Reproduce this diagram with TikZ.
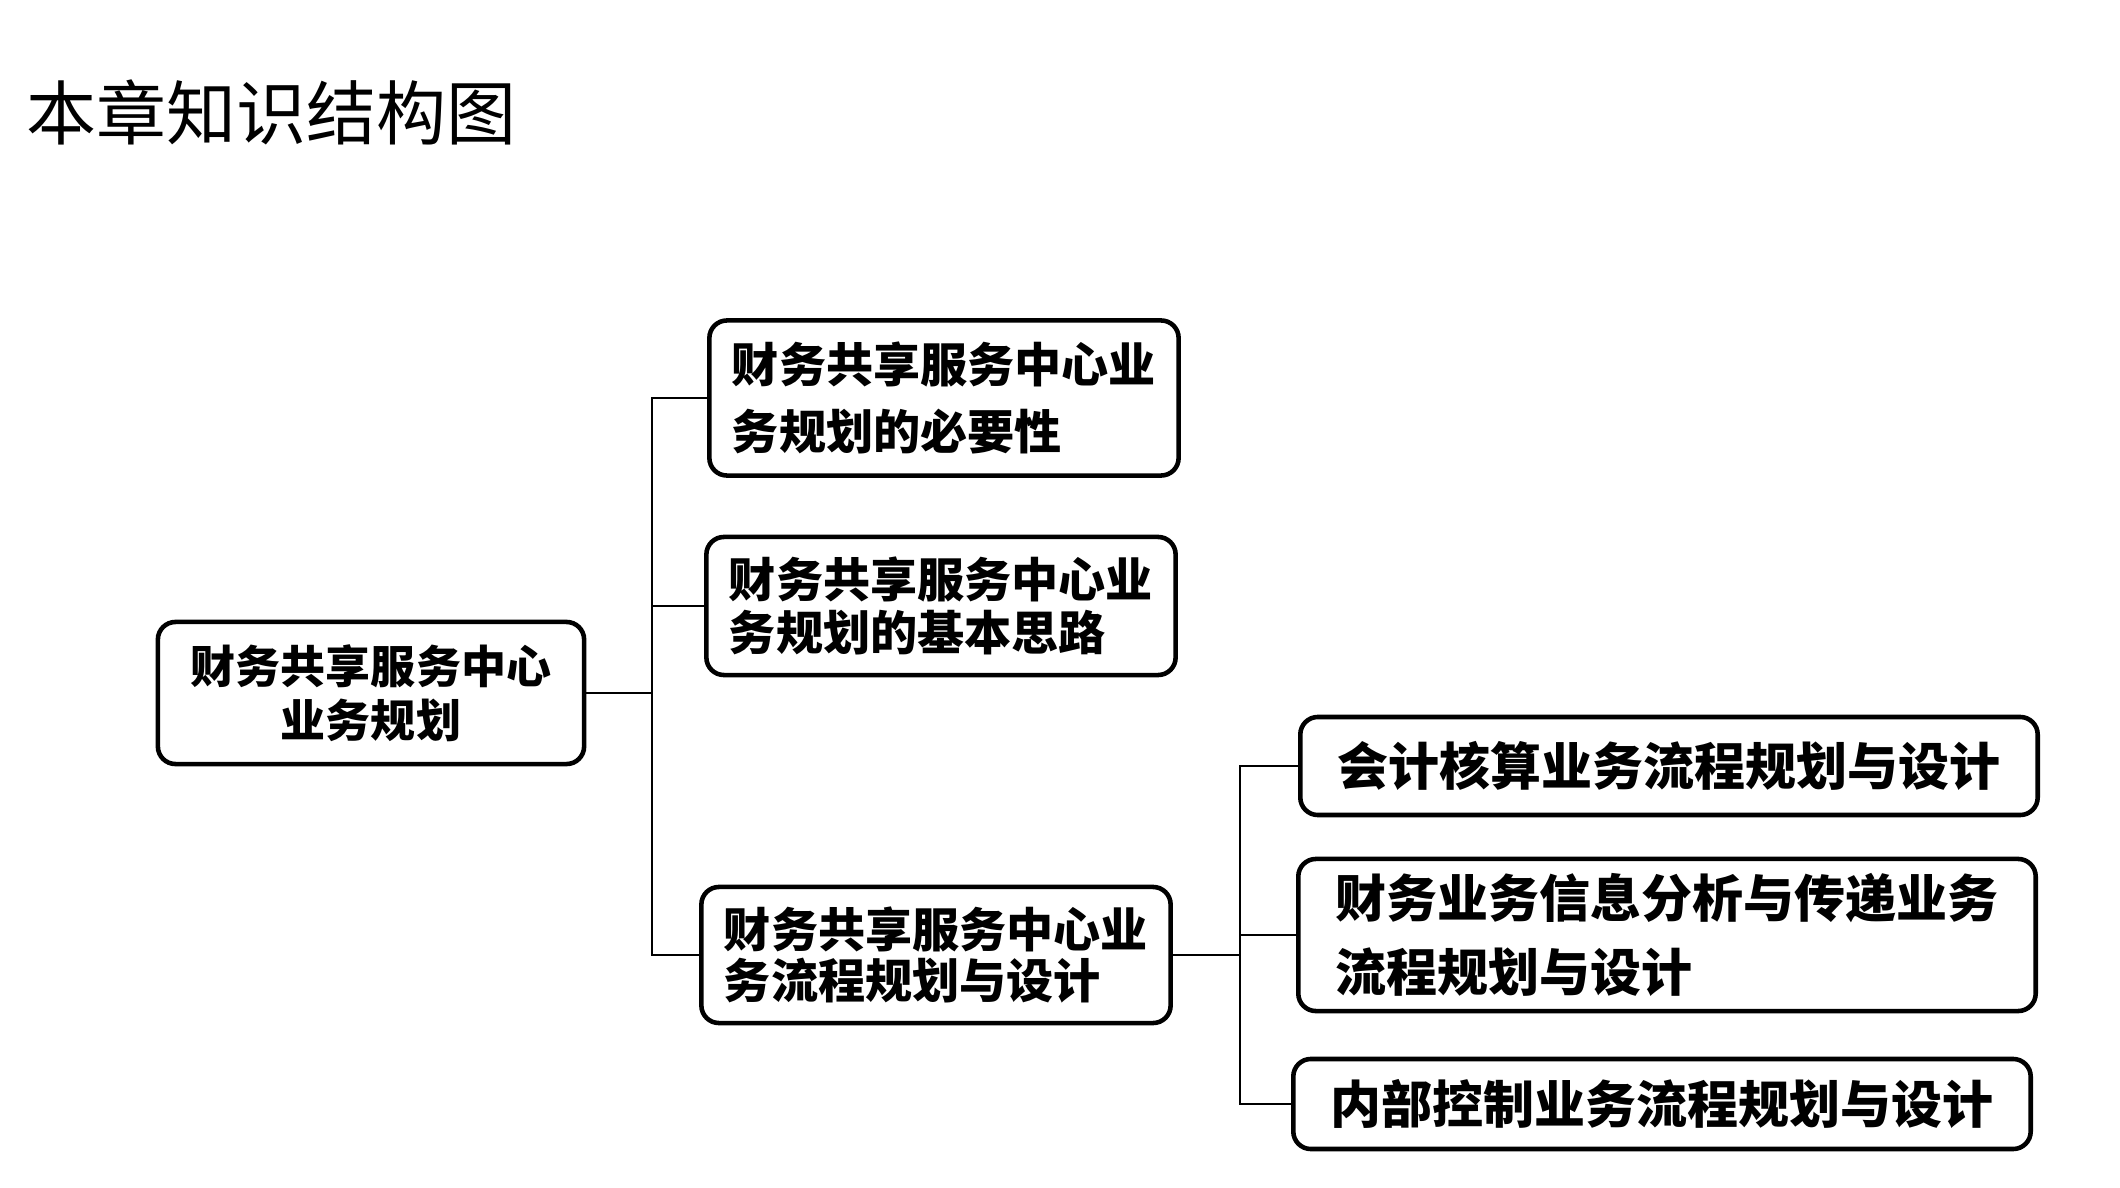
\documentclass[tikz,border=0pt]{standalone}
\usepackage{fontspec}
\newfontfamily\cjk{Noto Sans CJK SC}
\begin{document}
\begin{tikzpicture}[x=0.01cm,y=-0.01cm,
  box/.style={draw=black,line width=1.3pt,rounded corners=5pt,fill=white,inner sep=0pt,align=left},
  midbox/.style={box,minimum width=4.69cm,font=\cjk\bfseries\fontsize{13.4}{16}\selectfont},
  rightbox/.style={box,minimum width=7.37cm,font=\cjk\bfseries\fontsize{14.5}{21}\selectfont},
  link/.style={draw=black,line width=0.7pt}]
\useasboundingbox (0,0) rectangle (2120,1188);
\node[anchor=west,font=\cjk\fontsize{19.9}{22}\selectfont] (title) at (14,112) {本章知识结构图};

\node[box,minimum width=4.26cm,minimum height=1.42cm,align=center,font=\cjk\bfseries\fontsize{12.8}{15.4}\selectfont] (root) at (371,693) {财务共享服务中心\\业务规划};

\node[midbox,minimum height=1.55cm,font=\cjk\bfseries\fontsize{13.4}{19.3}\selectfont] (a) at (944,398) {财务共享服务中心业\\务规划的必要性};
\node[midbox,minimum height=1.38cm,font=\cjk\bfseries\fontsize{13.4}{15}\selectfont] (b) at (941,606) {财务共享服务中心业\\务规划的基本思路};
\node[midbox,minimum height=1.36cm,font=\cjk\bfseries\fontsize{13.4}{14.5}\selectfont] (c) at (936,955) {财务共享服务中心业\\务流程规划与设计};

\node[rightbox,minimum height=0.98cm] (d) at (1669,766) {会计核算业务流程规划与设计};
\node[rightbox,minimum height=1.52cm] (e) at (1667,935) {财务业务信息分析与传递业务\\流程规划与设计};
\node[rightbox,minimum height=0.9cm] (f) at (1662,1104) {内部控制业务流程规划与设计};

\coordinate (t1) at (652,693);
\coordinate (t2) at (1240,955);
\draw[link] (root.east) -- (t1);
\draw[link] (a.west) -| (t1);
\draw[link] (c.west) -| (t1);
\draw[link] (b.west) -- (b.west -| t1);
\draw[link] (c.east) -- (t2);
\draw[link] (d.west) -| (t2);
\draw[link] (f.west) -| (t2);
\draw[link] (e.west) -- (e.west -| t2);
\end{tikzpicture}
\end{document}
